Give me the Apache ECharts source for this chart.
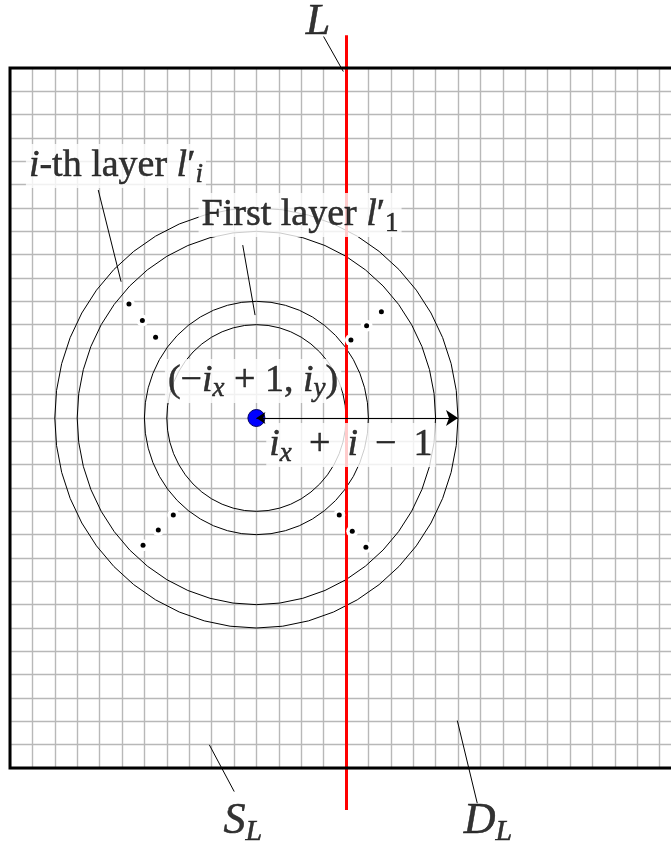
<!DOCTYPE html>
<html>
<head>
<meta charset="utf-8">
<title>layers around L</title>
<script src="https://cdn.jsdelivr.net/npm/echarts@6/dist/echarts.min.js"></script>
<style>
  html, body { margin: 0; padding: 0; background: #fff; }
  #main { width: 671px; height: 844px; }
</style>
</head>
<body>
<div id="main"></div>
<script>
// the board is 30 x 30 cells
var cells = 30;
// centre (-i_x+1, i_y) and radii of the drawn layers, in cells
var center = [11, 15];
var layerRadii = [4, 5, 8, 9];
// vertical line L
var lineL = [[15, 31.4], [15, -1.8]];
// arrow of length i_x + i - 1
var arrow = [[11, 15], [20, 15]];
// the dots between the layers
var dotsUL = [[5.31, 19.89], [5.91, 19.18], [6.5, 18.46]];
var dotsUR = [[15.22, 18.34], [15.92, 18.95], [16.58, 19.55]];
var dotsLR = [[14.7, 10.84], [15.28, 10.15], [15.89, 9.46]];
var dotsLL = [[7.29, 10.84], [6.62, 10.2], [5.94, 9.55]];
// leader lines from the labels
var leaders = [
  [[14.0, 31.35], [14.88, 29.85]],
  [[3.94, 24.77], [4.96, 20.84]],
  [[10.39, 22.41], [10.94, 19.41]],
  [[8.9, 0.99], [10.01, -1.01]],
  [[19.97, 2.03], [20.86, -1.51]]
];
// labels
var labelPos = [[13.75, 31.97], [4.73, 25.8], [12.95, 23.7], [10.85, 16.59], [15.22, 13.84], [10.4, -2.3], [21.34, -2.3]];
var labelText = [
  '{bit|L}',
  '{it|i}{rm|-th layer }{it|l}{rm|′}{sub|i}',
  '{rm|First layer }{it|l}{rm|′}{subrm|1}',
  '{rm|(−}{it|i}{sub|x}{rm| + 1, }{it|i}{sub|y}{rm|)}',
  '{it|i}{sub|x}{rm|\u2009 + \u2009}{it|i}{rm|\u2009 − \u20091}',
  '{bit|S}{bsub|L}',
  '{bit|D}{bsub|L}'
];
var boxed = [false, true, true, true, true, false, false];

var F = 'Liberation Serif';
var chart = echarts.init(document.getElementById('main'));

function makeAxis() {
  return {
    type: 'value', min: 0, max: cells, interval: 1,
    axisLabel: {show: false}, axisTick: {show: false}, axisLine: {show: false},
    splitLine: {show: true, lineStyle: {color: '#b8b8b8', width: 1.4}}
  };
}

function txt(size, lh, italic, extra) {
  var s = {fontFamily: F, fontSize: size, lineHeight: lh, color: '#000',
    fontStyle: italic ? 'italic' : 'normal', textBorderColor: '#000', textBorderWidth: 0.5};
  if (extra) s.verticalAlign = extra;
  return s;
}

var option = {
  animation: false,
  grid: {left: 10, top: 68, width: 672, height: 700, outerBoundsMode: 'none', containLabel: false},
  xAxis: makeAxis(),
  yAxis: makeAxis(),
  series: [
    {
      // board border
      type: 'custom', clip: false, z: 6,
      data: [[0, 0]],
      renderItem: function (params, api) {
        var a = api.coord([0, cells]);
        var b = api.coord([cells, 0]);
        return {type: 'rect', shape: {x: a[0], y: a[1], width: b[0] - a[0], height: b[1] - a[1]},
          style: {fill: 'none', stroke: '#000', lineWidth: 3}};
      }
    },
    {
      // layers
      type: 'custom', z: 2,
      data: layerRadii.map(function (r) { return [center[0], center[1], r]; }),
      renderItem: function (params, api) {
        var c = api.coord([api.value(0), api.value(1)]);
        var s = api.size([api.value(2), api.value(2)]);
        var pts = [];
        for (var k = 0; k < 48; k++) {
          var t = k / 48 * Math.PI * 2;
          pts.push([c[0] + s[0] * Math.cos(t), c[1] + s[1] * Math.sin(t)]);
        }
        return {type: 'polygon', shape: {points: pts}, style: {fill: 'none', stroke: '#000', lineWidth: 1}};
      }
    },
    {
      type: 'lines', coordinateSystem: 'cartesian2d', clip: false, z: 4,
      lineStyle: {color: '#ff0000', width: 3, opacity: 1},
      data: [{coords: lineL}]
    },
    {
      type: 'scatter', z: 3, symbolSize: 17,
      itemStyle: {color: '#0000ff', borderColor: '#000060', borderWidth: 1, opacity: 1},
      data: [center]
    },
    {
      type: 'lines', coordinateSystem: 'cartesian2d', clip: false, z: 5,
      symbol: ['arrow', 'arrow'], symbolSize: [9, 12],
      lineStyle: {color: '#000', width: 1, opacity: 1},
      data: [{coords: arrow}]
    },
    {
      type: 'lines', coordinateSystem: 'cartesian2d', clip: false, z: 5,
      lineStyle: {color: '#000', width: 1, opacity: 1},
      data: leaders.map(function (c) { return {coords: c}; })
    },
    {
      type: 'scatter', z: 7, symbolSize: 12,
      itemStyle: {color: '#fff', opacity: 1},
      data: dotsUL.concat(dotsUR, dotsLR, dotsLL)
    },
    {
      type: 'scatter', z: 8, symbolSize: 5,
      itemStyle: {color: '#000', opacity: 1},
      data: dotsUL.concat(dotsUR, dotsLR, dotsLL)
    },
    {
      type: 'scatter', z: 10, symbolSize: 0, clip: false,
      label: {
        show: true, position: 'inside', color: '#000', textBorderWidth: 0,
        rich: {
          it: txt(38, 44, true),
          rm: txt(38, 44, false),
          sub: txt(27, 27, true, 'bottom'),
          subrm: txt(27, 27, false, 'bottom'),
          bit: txt(44, 50, true),
          bsub: txt(30, 30, true, 'bottom')
        }
      },
      data: labelPos.map(function (p, i) {
        return {
          value: p,
          label: {
            formatter: labelText[i],
            backgroundColor: boxed[i] ? '#fff' : 'transparent',
            padding: boxed[i] ? [0, 3, 0, 3] : 0
          }
        };
      })
    }
  ]
};
chart.setOption(option);
</script>
</body>
</html>
